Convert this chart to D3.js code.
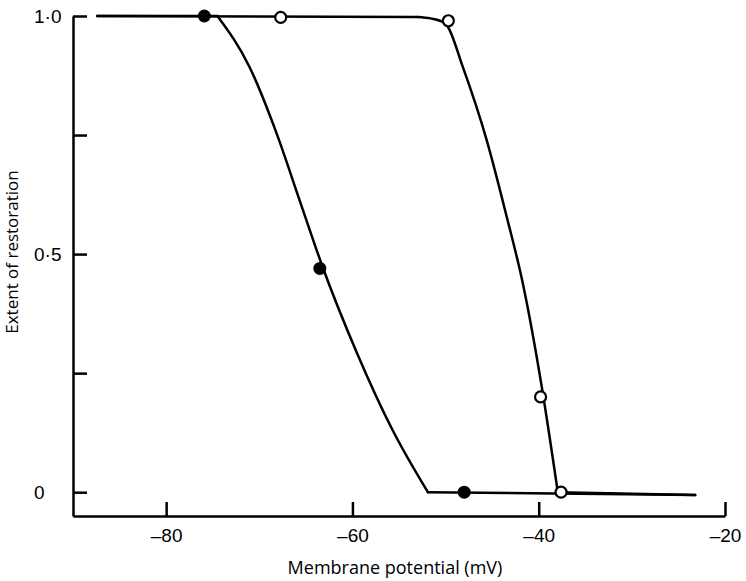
<!DOCTYPE html>
<html>
<head>
<meta charset="utf-8">
<title>Extent of restoration</title>
<script src="https://cdnjs.cloudflare.com/ajax/libs/d3/7.8.5/d3.min.js"></script>
<style>
  body { margin: 0; background: #fff; }
  svg { font-family: "Open Sans", Lato, sans-serif; }
</style>
</head>
<body>
<script>
// data (mV, extent)
var filledPts = [[-75.9, 1.0], [-63.5, 0.47], [-48.0, 0.0]];
var openPts = [[-67.7, 0.997], [-49.7, 0.99], [-39.8, 0.2], [-37.6, 0.0]];

// fitted curves: flat start, smooth fall, flat end
var filledCurve = [[-87.4, 1.0], [-74.5, 1.0], [-71.05, 0.893], [-68.15, 0.754], [-65.67, 0.613],
                   [-63.2, 0.473], [-59.55, 0.294], [-55.68, 0.13], [-51.9, 0.0], [-23.2, -0.006]];
var openCurve = [[-87.4, 1.0], [-53.0, 0.998], [-51.6, 0.995], [-50.6, 0.99], [-49.9, 0.982],
                 [-48.15, 0.893], [-45.58, 0.739], [-43.43, 0.578], [-41.71, 0.439],
                 [-39.67, 0.221], [-37.95, 0.0], [-23.2, -0.006]];

var xTicks = [-80, -60, -40, -20];
var yTicks = [0, 0.25, 0.5, 0.75, 1.0];
var yLabels = {0: '0', 0.5: '0\u00b75', 1: '1\u00b70'};

var w = 746, h = 581;

var svg = d3.select('body').append('svg')
  .attr('width', w)
  .attr('height', h);

var x = d3.scaleLinear().domain([-90, -20]).range([73, 725]);
var y = d3.scaleLinear().domain([-0.05, 1]).range([516, 16]);

// y axis, ticks pointing inward
var yAxis = svg.append('g')
  .attr('transform', 'translate(73,0)')
  .call(d3.axisRight(y)
    .tickValues(yTicks)
    .tickSize(14)
    .tickSizeOuter(0)
    .tickFormat(function(d) { return yLabels[d] || ''; }));

yAxis.select('.domain').attr('stroke-width', 2.5);
yAxis.selectAll('.tick line').attr('stroke-width', 2.5);
yAxis.selectAll('.tick text')
  .attr('x', -39)
  .attr('text-anchor', 'start')
  .attr('font-size', 19)
  .attr('fill', '#000');

// x axis, ticks pointing up
var xAxis = svg.append('g')
  .attr('transform', 'translate(0,516)')
  .call(d3.axisTop(x)
    .tickValues(xTicks)
    .tickSize(14)
    .tickSizeOuter(0)
    .tickFormat(function(d) { return '\u2013' + Math.abs(d); }));

xAxis.select('.domain').attr('stroke-width', 2.5);
xAxis.selectAll('.tick line').attr('stroke-width', 2.5);
xAxis.selectAll('.tick text')
  .attr('y', 26)
  .attr('font-size', 19)
  .attr('fill', '#000');

// axis titles
svg.append('text')
  .attr('x', 395)
  .attr('y', 574)
  .attr('text-anchor', 'middle')
  .attr('font-size', 18)
  .text('Membrane potential (mV)');

svg.append('text')
  .attr('transform', 'translate(18,252) rotate(-90)')
  .attr('text-anchor', 'middle')
  .attr('font-size', 17)
  .text('Extent of restoration');

var flat = d3.line()
  .x(function(d) { return x(d[0]); })
  .y(function(d) { return y(d[1]); });

var smooth = d3.line()
  .curve(d3.curveMonotoneX)
  .x(function(d) { return x(d[0]); })
  .y(function(d) { return y(d[1]); });

[filledCurve, openCurve].forEach(function(c) {
  var n = c.length;
  var parts = [
    [flat, c.slice(0, 2)],
    [smooth, c.slice(1, n - 1)],
    [flat, c.slice(n - 2)]
  ];
  parts.forEach(function(p) {
    svg.append('path')
      .datum(p[1])
      .attr('d', p[0])
      .attr('fill', 'none')
      .attr('stroke', '#000')
      .attr('stroke-width', 2.5)
      .attr('stroke-linejoin', 'round')
      .attr('stroke-linecap', 'round');
  });
});

svg.selectAll('circle.filled')
  .data(filledPts)
  .enter().append('circle')
    .attr('class', 'filled')
    .attr('cx', function(d) { return x(d[0]); })
    .attr('cy', function(d) { return y(d[1]); })
    .attr('r', 6.5)
    .attr('fill', '#000');

svg.selectAll('circle.open')
  .data(openPts)
  .enter().append('circle')
    .attr('class', 'open')
    .attr('cx', function(d) { return x(d[0]); })
    .attr('cy', function(d) { return y(d[1]); })
    .attr('r', 5.5)
    .attr('fill', '#fff')
    .attr('stroke', '#000')
    .attr('stroke-width', 2.2);
</script>
</body>
</html>
